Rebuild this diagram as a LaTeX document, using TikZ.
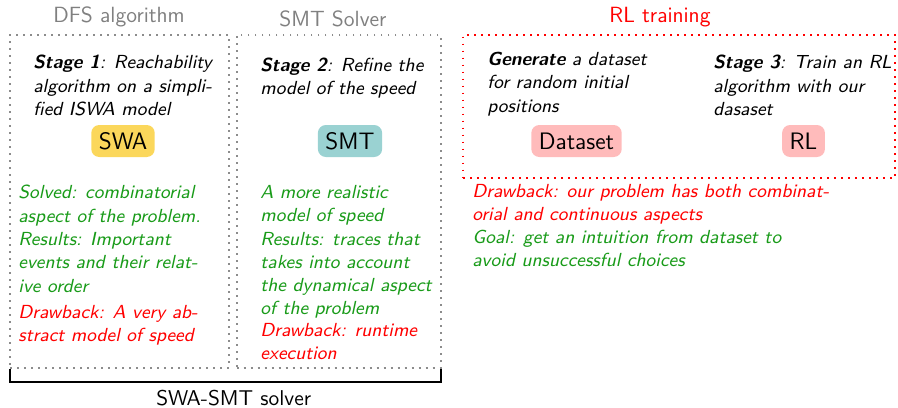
\documentclass[tikz,border=0pt]{standalone}
\usepackage{xcolor}
\definecolor{mygreen}{RGB}{25,155,25}
\definecolor{myred}{RGB}{255,0,0}
\definecolor{titlegray}{RGB}{128,128,128}
\definecolor{dotgray}{RGB}{140,140,140}
\definecolor{swafill}{RGB}{251,215,91}
\definecolor{smtfill}{RGB}{154,210,210}
\definecolor{rlfill}{RGB}{255,187,187}
\begin{document}
\begin{tikzpicture}[x=0.5pt,y=-0.5pt,
  every node/.style={font=\sffamily, inner sep=0pt},
  body/.style={anchor=north west, align=left, font=\sffamily\itshape\fontsize{9.45}{11.65}\selectfont},
  title/.style={anchor=base, font=\sffamily\fontsize{11}{13}\selectfont, text=titlegray},
  tag/.style={rounded corners=4pt, minimum height=16pt, inner xsep=3.8pt, font=\sffamily\fontsize{11.9}{14}\selectfont},
  dotbox/.style={draw=dotgray, line width=0.9pt, dash pattern=on 0.9pt off 2.6pt, minimum height=166.35pt},
  reddotbox/.style={draw=myred, line width=0.9pt, dash pattern=on 0.9pt off 2.6pt},
]
\useasboundingbox (0,0) rectangle (898,407);

% boxes
\node[dotbox, minimum width=109.5pt] (boxA) at (119.5,201.35) {};
\node[dotbox, minimum width=102pt] (boxB) at (338.7,201.35) {};
\node[reddotbox, minimum width=215.85pt, minimum height=71.5pt] (boxC) at (679.15,106.5) {};

% titles
\node[title] (tA) at (119,22.7) {DFS algorithm};
\node[title] (tB) at (333,26.7) {SMT Solver};
\node[title, text=myred] (tC) at (660,22.7) {RL training};

% stage texts
\node[body] (s1) at (33,54.9) {\textbf{Stage 1}: Reachability\\algorithm on a simpli-\\fied ISWA model};
\node[body] (s2) at (260,57.6) {\textbf{Stage 2}: Refine the\\model of the speed};
\node[body] (gen) at (487,51.9) {\textbf{Generate} a dataset\\for random initial\\positions};
\node[body] (s3) at (713,54.9) {\textbf{Stage 3}: Train an RL\\algorithm with our\\dasaset};

% tags
\node[tag, fill=swafill] (swa) at (123,141) {SWA};
\node[tag, fill=smtfill] (smt) at (350,141) {SMT};
\node[tag, fill=rlfill] (ds) at (576.5,141) {Dataset};
\node[tag, fill=rlfill] (rl) at (803.5,141) {RL};

% result texts
\node[body, text=mygreen] (g1) at (18,184.9) {Solved: combinatorial\\aspect of the problem.\\Results: Important\\events and their relat-\\ive order};
\node[body, text=myred] (r1) at (18,304.9) {Drawback: A very ab-\\stract model of speed};
\node[body, text=mygreen] (g2) at (260,184.9) {A more realistic\\model of speed\\Results: traces that\\takes into account\\the dynamical aspect\\of the problem};
\node[body, text=myred] (r2) at (260,322.9) {Drawback: runtime\\execution};
\node[body, text=myred] (r3) at (472,183.9) {Drawback: our problem has both combinat-\\orial and continuous aspects};
\node[body, text=mygreen] (g3) at (472,229.9) {Goal: get an intuition from dataset to\\avoid unsuccessful choices};

% bracket
\coordinate (bl) at (10,369);
\coordinate (br) at (441,369);
\draw[line width=1.2pt] (bl) -- (10,382) -- (441,382) -- (br);
\node[anchor=base, font=\sffamily\fontsize{10.7}{13}\selectfont] (solver) at (233.7,405) {SWA-SMT solver};
\end{tikzpicture}
\end{document}
